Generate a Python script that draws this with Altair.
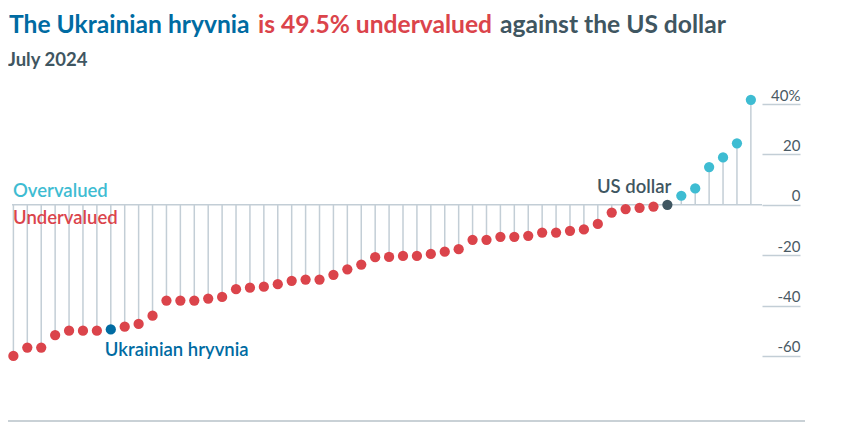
import altair as alt
import pandas as pd

# Valuation against the US dollar, % (sorted, July 2024)
values = [-60.0, -56.7, -56.7, -51.7, -50.0, -50.0, -50.0, -49.5, -48.4, -47.3,
          -44.0, -38.0, -38.0, -38.0, -37.2, -36.6, -33.5, -32.9, -32.5, -31.5,
          -30.2, -29.7, -29.7, -27.8, -25.6, -23.7, -20.8, -20.7, -20.3, -20.3,
          -19.5, -18.6, -17.6, -13.9, -13.9, -12.7, -12.7, -12.3, -11.0, -11.0,
          -10.3, -9.8, -7.6, -3.1, -1.7, -1.2, -0.7, 0.0,
          3.6, 6.5, 15.0, 18.8, 24.4, 41.7]
ukraine_index = 7
us_index = 47
y_ticks = [-60, -40, -20, 0, 20, 40]

title_parts = ["The Ukrainian hryvnia", "is 49.5% undervalued", "against the US dollar"]
subtitle = "July 2024"

RED = "#DB444B"
CYAN = "#3EBCD2"
BLUE = "#006BA2"
DARK = "#3F5661"
STEM = "#C3CED6"
FONT = "Lato"

cats = []
for i, v in enumerate(values):
    if i == ukraine_index:
        cats.append("ukraine")
    elif i == us_index:
        cats.append("us")
    elif v > 0:
        cats.append("over")
    else:
        cats.append("under")

df = pd.DataFrame({"idx": list(range(len(values))), "value": values, "cat": cats, "zero": 0.0})

xs = alt.Scale(domain=[-0.1, 53.8], nice=False, zero=False)
ys = alt.Scale(domain=[-64, 44], nice=False, zero=False)

base = alt.Chart(df)

stems = base.mark_rule(color=STEM, strokeWidth=1.5).encode(
    x=alt.X("idx:Q", scale=xs, axis=None),
    y=alt.Y("zero:Q", scale=ys,
            axis=alt.Axis(orient="right", values=y_ticks, domain=False, grid=False,
                          ticks=True, tickSize=38, tickColor=STEM, tickWidth=1.5,
                          labelAlign="right", labelBaseline="bottom", labelPadding=0,
                          labelOffset=-1, labelFont=FONT, labelFontSize=15,
                          labelColor="#4A5A64",
                          labelExpr="datum.value == 40 ? '40%' : '' + datum.value",
                          title=None)),
    y2="value:Q",
)

zero_line = alt.Chart(pd.DataFrame({"z": [0]})).mark_rule(color=STEM, strokeWidth=1.5).encode(
    y=alt.Y("z:Q", scale=ys)
)

dots = base.mark_circle(size=105, opacity=1).encode(
    x=alt.X("idx:Q", scale=xs),
    y=alt.Y("value:Q", scale=ys),
    color=alt.Color("cat:N", scale=alt.Scale(domain=["under", "over", "ukraine", "us"],
                                             range=[RED, CYAN, BLUE, DARK]), legend=None),
)

ua_label = base.transform_filter(alt.datum.idx == ukraine_index).mark_text(
    align="left", baseline="alphabetic", dx=-6, dy=27, font=FONT, fontSize=18.5,
    fontWeight=600, color=BLUE
).encode(x=alt.X("idx:Q", scale=xs), y=alt.Y("value:Q", scale=ys), text=alt.value("Ukrainian hryvnia"))

us_label = base.transform_filter(alt.datum.idx == us_index).mark_text(
    align="right", baseline="alphabetic", dx=4, dy=-12, font=FONT, fontSize=18.5,
    fontWeight=600, color=DARK
).encode(x=alt.X("idx:Q", scale=xs), y=alt.Y("value:Q", scale=ys), text=alt.value("US dollar"))

def txt(s, x, y, color, size, weight="bold", align="left"):
    return alt.Chart(pd.DataFrame({"t": [s]})).mark_text(
        align=align, baseline="alphabetic", font=FONT, fontSize=size, fontWeight=weight, color=color
    ).encode(x=alt.value(x), y=alt.value(y), text="t:N")

over_txt = txt("Overvalued", 1, 103, CYAN, 18.5, weight=600)
under_txt = txt("Undervalued", 1, 130, RED, 18.5, weight=600)

t1 = txt(title_parts[0], -3, -61, BLUE, 24.6)
t2 = txt(title_parts[1], 246, -61, RED, 24.6)
t3 = txt(title_parts[2], 488, -61, DARK, 24.6)
sub = txt(subtitle, -4, -28, DARK, 18.5)

bottom_line = alt.Chart(pd.DataFrame({"z": [0]})).mark_rule(color="#B7C2C9", strokeWidth=1.5).encode(
    x=alt.value(-5), x2=alt.value(793), y=alt.value(327)
)

chart = alt.layer(
    stems, zero_line, dots, ua_label, us_label, over_txt, under_txt, t1, t2, t3, sub, bottom_line
).properties(
    width=750, height=272,
    autosize=alt.AutoSizeParams(type="none"),
    padding={"left": 4, "top": 86, "right": 70, "bottom": 70},
    background="white",
).configure_view(strokeWidth=0, stroke="transparent")

chart.save("out.html", embed_options={"renderer": "svg", "actions": False})
